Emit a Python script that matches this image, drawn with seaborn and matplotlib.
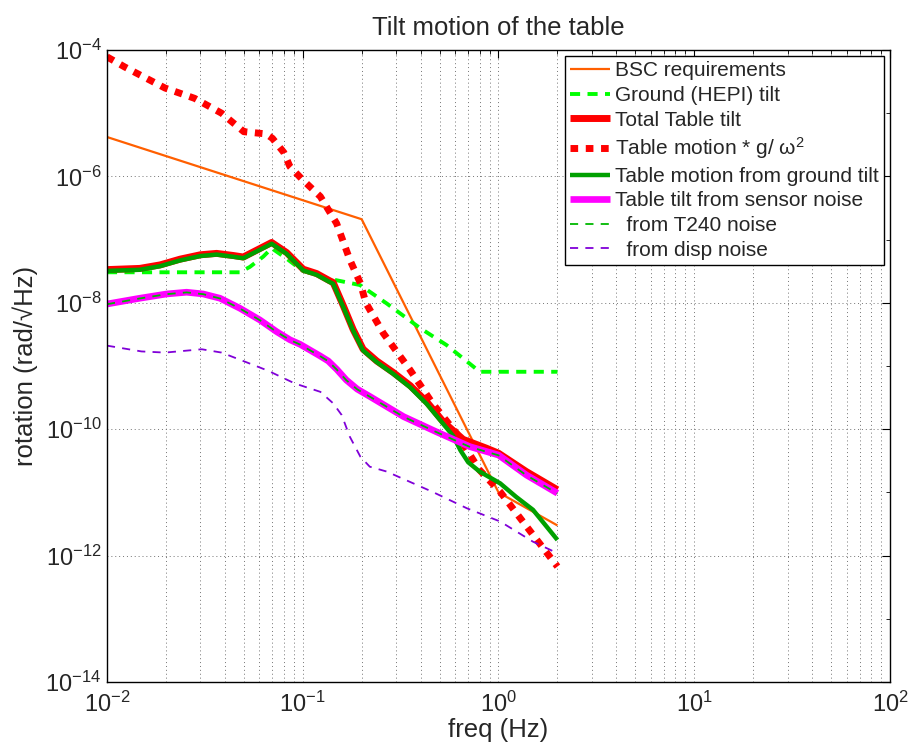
import numpy as np
import pandas as pd
import matplotlib
matplotlib.use('Agg')
import matplotlib.pyplot as plt
import seaborn as sns
from matplotlib.ticker import FixedLocator, FuncFormatter, LogLocator, NullFormatter

sns.set_style('white')
plt.rcParams['font.family'] = ['Liberation Sans', 'DejaVu Sans']
plt.rcParams['mathtext.fontset'] = 'custom'
plt.rcParams['mathtext.rm'] = 'Liberation Sans'
plt.rcParams['mathtext.it'] = 'Liberation Sans:italic'
plt.rcParams['mathtext.default'] = 'regular'

# ── Data ──────────────────────────────────────────────────────────────────
bsc_f = [0.01, 0.2, 1.0, 2.0]
bsc_y = [4.2e-6, 2.1e-7, 1.0e-11, 3.0e-12]

hepi_f = [0.01, 0.0478, 0.0537, 0.0628, 0.0694, 0.0827, 0.1, 0.133, 0.196, 0.268,
          0.398, 0.542, 0.745, 0.8, 2.0]
hepi_y = [3.04e-8, 3.04e-8, 3.7e-8, 5.37e-8, 7.3e-8, 5.0e-8, 3.2e-8, 2.44e-8, 1.91e-8,
          9.8e-9, 3.97e-9, 2.15e-9, 9.75e-10, 8.1e-10, 8.1e-10]

total_f = [0.01, 0.0147, 0.0187, 0.0236, 0.03, 0.0363, 0.0442, 0.0497, 0.0694, 0.0827,
           0.1006, 0.1178, 0.1377, 0.143, 0.1613, 0.1808, 0.2033, 0.2389, 0.29, 0.3538,
           0.4305, 0.5236, 0.66, 0.8685, 1.0, 1.39, 2.0]
total_y = [3.35e-8, 3.5e-8, 3.98e-8, 4.9e-8, 5.75e-8, 6.05e-8, 5.6e-8, 5.3e-8, 9.0e-8,
           6.25e-8, 3.4e-8, 2.9e-8, 2.22e-8, 2.1e-8, 8.9e-9, 3.8e-9, 1.85e-9, 1.2e-9,
           7.9e-10, 4.9e-10, 2.7e-10, 1.3e-10, 6.9e-11, 5.0e-11, 4.17e-11, 2.13e-11, 1.1e-11]

gw2_f = [0.01, 0.0123, 0.0198, 0.028, 0.0385, 0.05, 0.065, 0.07, 0.08, 0.086, 0.1,
         0.123, 0.149, 0.174, 0.197, 0.21, 0.258, 0.353, 0.46, 0.61, 0.8, 1.02, 1.39, 2.0]
gw2_y = [7.8e-5, 5.4e-5, 2.5e-5, 1.72e-5, 1.0e-5, 5.1e-6, 4.7e-6, 4.0e-6, 2.4e-6, 1.43e-6,
         8.8e-7, 4.8e-7, 1.8e-7, 4.8e-8, 2.04e-8, 1.0e-8, 3.3e-9, 8.7e-10, 2.57e-10,
         8.6e-11, 2.26e-11, 1.02e-11, 2.9e-12, 6.7e-13]

ground_f = [0.01, 0.0147, 0.0187, 0.0236, 0.03, 0.0363, 0.0442, 0.0497, 0.0694, 0.0827,
            0.1006, 0.1178, 0.1377, 0.143, 0.1613, 0.1808, 0.2033, 0.2389, 0.29, 0.3538,
            0.4305, 0.5236, 0.587, 0.64, 0.7, 0.8, 1.02, 1.23, 1.5, 2.0]
ground_y = [3.2e-8, 3.33e-8, 3.8e-8, 4.68e-8, 5.5e-8, 5.8e-8, 5.35e-8, 5.07e-8, 8.6e-8,
            5.97e-8, 3.25e-8, 2.77e-8, 2.12e-8, 2.0e-8, 8.5e-9, 3.65e-9, 1.76e-9, 1.15e-9,
            7.5e-10, 4.6e-10, 2.5e-10, 1.2e-10, 7.8e-11, 4.6e-11, 3.0e-11, 2.14e-11,
            1.39e-11, 8.5e-12, 5.3e-12, 1.77e-12]

sensor_f = [0.01, 0.0147, 0.0202, 0.0255, 0.031, 0.0378, 0.0478, 0.0604, 0.0736, 0.086,
            0.097, 0.1223, 0.135, 0.149, 0.167, 0.19, 0.22, 0.3275, 0.4814, 0.7134, 1.0,
            1.39, 2.0]
sensor_y = [9.57e-9, 1.18e-8, 1.38e-8, 1.47e-8, 1.38e-8, 1.18e-8, 8.18e-9, 5.35e-9,
            3.49e-9, 2.6e-9, 2.2e-9, 1.45e-9, 1.2e-9, 8.9e-10, 6.0e-10, 4.3e-10, 3.3e-10,
            1.58e-10, 9.1e-11, 5.3e-11, 3.9e-11, 1.88e-11, 9.7e-12]

t240_f = [0.01, 0.0147, 0.0202, 0.0255, 0.031, 0.0378, 0.0478, 0.0604, 0.0736, 0.086,
          0.097, 0.1223, 0.135, 0.149, 0.167, 0.19, 0.22, 0.3275, 0.4814, 0.7134, 1.0,
          1.39, 2.0]
t240_y = [9.5e-9, 1.17e-8, 1.37e-8, 1.46e-8, 1.37e-8, 1.17e-8, 8.1e-9, 5.3e-9,
          3.46e-9, 2.58e-9, 2.18e-9, 1.44e-9, 1.19e-9, 8.8e-10, 5.95e-10, 4.26e-10,
          3.27e-10, 1.57e-10, 9.0e-11, 5.25e-11, 3.86e-11, 1.86e-11, 9.6e-12]

disp_f = [0.01, 0.015, 0.0198, 0.0305, 0.0385, 0.0507, 0.0666, 0.091, 0.123, 0.143,
          0.158, 0.174, 0.197, 0.22, 0.268, 0.46, 0.69, 1.02, 1.5, 2.0]
disp_y = [2.1e-9, 1.7e-9, 1.63e-9, 1.84e-9, 1.63e-9, 1.17e-9, 8.4e-10, 5.3e-10, 3.9e-10,
          2.57e-10, 1.68e-10, 7.6e-11, 3.67e-11, 2.55e-11, 2.14e-11, 1.02e-11, 5.6e-12,
          3.46e-12, 1.66e-12, 1.09e-12]

# (label, f, y, colour, linewidth, dash pattern in lw units or None)
SERIES = [
    ('BSC requirements', bsc_f, bsc_y, '#ff5f00', 1.6, None),
    ('Ground (HEPI) tilt', hepi_f, hepi_y, '#00ff00', 2.8, (2.6, 1.9)),
    ('Total Table tilt', total_f, total_y, '#ff0000', 5.0, None),
    ('Table motion * g/ ω$^2$', gw2_f, gw2_y, '#ff0000', 5.0, (1.1, 1.1)),
    ('Table motion from ground tilt', ground_f, ground_y, '#00a000', 3.2, None),
    ('Table tilt from sensor noise', sensor_f, sensor_y, '#ff00ff', 4.8, None),
    ('  from T240 noise', t240_f, t240_y, '#00b800', 1.3, (4.5, 4.0)),
    ('  from disp noise', disp_f, disp_y, '#8000d8', 1.3, (4.5, 4.0)),
]

# ── Figure ────────────────────────────────────────────────────────────────
fig = plt.figure(figsize=(9.12, 7.53), dpi=100)
ax = fig.add_axes([0.1173, 0.0943, 0.8586, 0.8393])
ax.set_xscale('log')
ax.set_yscale('log')

for label, f, y, col, lw, dash in SERIES:
    df = pd.DataFrame({'f': f, 'y': y})
    sns.lineplot(data=df, x='f', y='y', ax=ax, color=col, lw=lw, label=label,
                 estimator=None, errorbar=None, sort=False)
    line = ax.lines[-1]
    line.set_solid_capstyle('butt')
    line.set_solid_joinstyle('round')
    if dash is not None:
        line.set_dashes(dash)
        line.set_dash_capstyle('butt')

ax.set_xlim(1e-2, 1e2)
ax.set_ylim(1e-14, 1e-4)

ax.xaxis.set_major_locator(FixedLocator([1e-2, 1e-1, 1e0, 1e1, 1e2]))
ax.xaxis.set_minor_locator(LogLocator(base=10, subs=np.arange(2, 10), numticks=20))
ax.xaxis.set_minor_formatter(NullFormatter())
ax.yaxis.set_major_locator(FixedLocator([1e-14, 1e-12, 1e-10, 1e-8, 1e-6, 1e-4]))
ax.yaxis.set_minor_locator(FixedLocator([10.0 ** k for k in range(-13, -4, 2)]))
ax.yaxis.set_minor_formatter(NullFormatter())
fmt = FuncFormatter(lambda v, p: r'$10^{%d}$' % int(round(np.log10(v))))
ax.xaxis.set_major_formatter(fmt)
ax.yaxis.set_major_formatter(fmt)

ax.tick_params(which='both', direction='in', top=True, right=True, labelsize=17,
               color='black')
ax.tick_params(which='major', length=6, width=0.8)
ax.tick_params(which='minor', length=3, width=0.6)
ax.tick_params(axis='x', which='major', pad=7)
ax.tick_params(axis='y', which='major', pad=4)

ax.grid(True, axis='x', which='both', ls=(0, (1, 3)), color='0.45', lw=0.7)
ax.grid(True, axis='y', which='major', ls=(0, (1, 3)), color='0.45', lw=0.7)
ax.set_axisbelow(True)

for s in ax.spines.values():
    s.set_color('black')
    s.set_linewidth(1.0)

ax.set_xlabel('freq (Hz)', fontsize=18.5, labelpad=1)
ax.set_ylabel('rotation (rad/√Hz)', fontsize=18.5, labelpad=5)
ax.set_title('Tilt motion of the table', fontsize=18.5, pad=11)

leg = ax.legend(loc='upper right', fontsize=15, frameon=True, fancybox=False,
                edgecolor='black', framealpha=1, handlelength=1.9,
                handletextpad=0.25, labelspacing=0.27, borderpad=0.25,
                borderaxespad=0.3)
leg.get_frame().set_linewidth(1.0)

fig.savefig('out.png', dpi=100)
